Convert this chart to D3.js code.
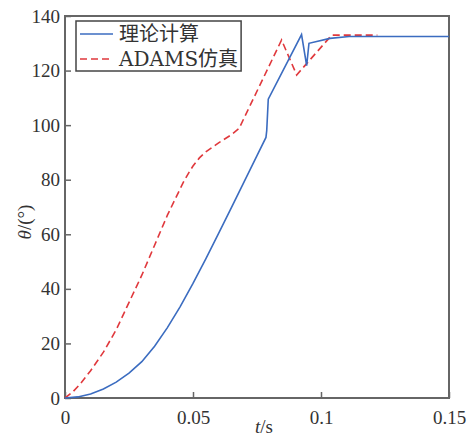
<!DOCTYPE html>
<html>
<head>
<meta charset="utf-8">
<script src="https://cdn.jsdelivr.net/npm/d3@7"></script>
<style>
  html, body { margin: 0; padding: 0; background: #fff; }
  svg { display: block; }
</style>
</head>
<body>
<svg id="chart" width="467" height="439"></svg>
<script>
// ---- data ----
const seriesNames = ["理论计算", "ADAMS仿真"];
const theoryT = [0, 0.005, 0.01, 0.015, 0.02, 0.025, 0.03, 0.035, 0.04, 0.045, 0.05, 0.055, 0.06, 0.065, 0.07, 0.075, 0.0785, 0.0788, 0.0794, 0.0924, 0.0944, 0.0953, 0.1035, 0.111, 0.15];
const theoryV = [0, 0.4, 1.5, 3.3, 5.8, 9.1, 13.3, 19, 25.8, 33.5, 42, 51, 60.3, 69.8, 79.3, 88.8, 95.5, 98, 109.5, 133.2, 121.8, 130, 131.8, 132.5, 132.5];
const adamsT = [0, 0.003, 0.006, 0.01, 0.015, 0.02, 0.024, 0.03, 0.035, 0.04, 0.0436, 0.0462, 0.0485, 0.05, 0.0525, 0.055, 0.06, 0.065, 0.068, 0.0846, 0.0905, 0.1042, 0.122];
const adamsV = [0, 2.2, 5.2, 10, 16.8, 25, 33, 45, 56, 67, 74, 79, 82.8, 85, 88, 90.2, 93.5, 96.5, 98.8, 131.2, 118.4, 133, 133];
const xTicks = [0, 0.05, 0.1, 0.15];
const xTickLabels = ["0", "0.05", "0.1", "0.15"];
const yTicks = [0, 20, 40, 60, 80, 100, 120, 140];

// ---- layout ----
const svg = d3.select("#chart");
const x = d3.scaleLinear().domain([0, 0.15]).range([65, 449]);
const y = d3.scaleLinear().domain([0, 140]).range([398, 16]);
const axisColor = "#666";
const serif = "Liberation Serif";

// axes
const gx = svg.append("g").attr("transform", `translate(0,${y(0)})`)
  .call(d3.axisBottom(x).tickValues(xTicks).tickFormat((d, i) => xTickLabels[i])
    .tickSizeInner(-6).tickSizeOuter(0).tickPadding(13));
const gy = svg.append("g").attr("transform", `translate(${x(0)},0)`)
  .call(d3.axisLeft(y).tickValues(yTicks).tickFormat(d3.format("d"))
    .tickSizeInner(-6).tickSizeOuter(0).tickPadding(5));
[gx, gy].forEach(g => {
  g.attr("font-family", serif).attr("font-size", 19);
  g.select(".domain").remove();
  g.selectAll(".tick line").attr("stroke", axisColor).attr("stroke-width", 1.5);
  g.selectAll(".tick text").attr("fill", "#333");
});

// frame
svg.append("rect")
  .attr("x", x(0)).attr("y", y(140))
  .attr("width", x(0.15) - x(0)).attr("height", y(0) - y(140))
  .attr("fill", "none").attr("stroke", axisColor).attr("stroke-width", 2);

// lines
const line = d3.line().x(d => x(d[0])).y(d => y(d[1]));
const theory = theoryT.map((t, i) => [t, theoryV[i]]);
const adams = adamsT.map((t, i) => [t, adamsV[i]]);
const blue = "#3b6cc0", red = "#e0383c";

svg.append("path").datum(adams).attr("d", line)
  .attr("fill", "none").attr("stroke", red).attr("stroke-width", 1.6)
  .attr("stroke-dasharray", "7,4");
svg.append("path").datum(theory).attr("d", line)
  .attr("fill", "none").attr("stroke", blue).attr("stroke-width", 1.6)
  .attr("stroke-linejoin", "miter");

// legend
const lg = svg.append("g");
const lgBox = lg.append("rect").attr("x", 76).attr("y", 21).attr("height", 50)
  .attr("fill", "#fff").attr("stroke", "#444").attr("stroke-width", 1.5);
const items = [{name: seriesNames[0], color: blue, dash: null, yy: 34},
               {name: seriesNames[1], color: red, dash: "7,4", yy: 59}];
let maxR = 0;
items.forEach(it => {
  lg.append("line").attr("x1", 80).attr("x2", 113).attr("y1", it.yy).attr("y2", it.yy)
    .attr("stroke", it.color).attr("stroke-width", 1.6)
    .attr("stroke-dasharray", it.dash);
  const t = lg.append("text").attr("x", 119).attr("y", it.yy).attr("dy", "0.36em")
    .attr("font-family", "DejaVu Serif, Noto Sans CJK SC").attr("font-size", 20)
    .attr("fill", "#333").text(it.name);
  const bb = t.node().getBBox();
  maxR = Math.max(maxR, bb.x + bb.width);
});
lgBox.attr("width", maxR + 3 - 76);

// axis titles
const xt = svg.append("text").attr("x", 264).attr("y", 433).attr("text-anchor", "middle")
  .attr("font-family", "Liberation Serif").attr("font-size", 19).attr("fill", "#333");
xt.append("tspan").attr("font-style", "italic").text("t");
xt.append("tspan").text("/s");

const yt = svg.append("text").attr("transform", "translate(31,222) rotate(-90)")
  .attr("text-anchor", "middle").attr("font-family", "Liberation Serif")
  .attr("font-size", 19).attr("fill", "#333");
yt.append("tspan").attr("font-style", "italic").text("θ");
yt.append("tspan").text("/(°)");
</script>
</body>
</html>
